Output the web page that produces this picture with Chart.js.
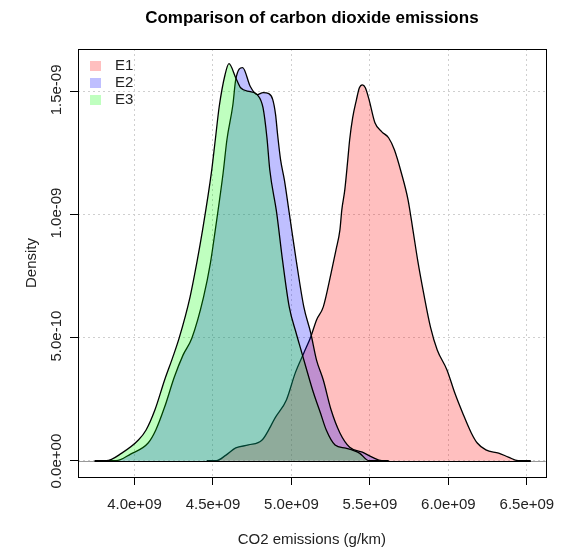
<!DOCTYPE html>
<html>
<head>
<meta charset="utf-8">
<script src="https://cdn.jsdelivr.net/npm/chart.js@4.4.1/dist/chart.umd.min.js"></script>
<style>
  html, body { margin: 0; padding: 0; background: #fff; }
  #wrap { width: 566px; height: 553px; }
</style>
</head>
<body>
<div id="wrap"><canvas id="chart" width="566" height="553"></canvas></div>
<script>
// CO2 emissions (x, in units of 1e9 g/km) and density (y, in units of 1e-9)
const e1Emissions = [4.46, 4.521, 4.583, 4.645, 4.726, 4.813, 4.900, 4.968, 5.024, 5.079, 5.123, 5.160, 5.203, 5.253, 5.284, 5.309, 5.321, 5.340, 5.359, 5.371, 5.390, 5.414, 5.433, 5.452, 5.471, 5.495, 5.532, 5.576, 5.619, 5.656, 5.700, 5.743, 5.774, 5.805, 5.842, 5.886, 5.929, 5.991, 6.041, 6.091, 6.146, 6.184, 6.239, 6.320, 6.382, 6.444, 6.525];
const e1Density = [0, 0, 0.023, 0.052, 0.064, 0.084, 0.178, 0.247, 0.356, 0.438, 0.503, 0.572, 0.625, 0.763, 0.857, 0.938, 1.019, 1.100, 1.222, 1.304, 1.393, 1.466, 1.515, 1.527, 1.515, 1.466, 1.373, 1.336, 1.312, 1.263, 1.170, 1.060, 0.938, 0.812, 0.682, 0.543, 0.450, 0.369, 0.275, 0.194, 0.113, 0.072, 0.044, 0.031, 0.015, 0, 0];

const e2Emissions = [3.80, 3.882, 3.975, 4.087, 4.136, 4.192, 4.254, 4.310, 4.366, 4.440, 4.484, 4.515, 4.565, 4.589, 4.627, 4.645, 4.689, 4.738, 4.782, 4.819, 4.856, 4.881, 4.899, 4.912, 4.931, 4.955, 4.986, 5.030, 5.079, 5.123, 5.160, 5.203, 5.253, 5.309, 5.371, 5.452, 5.514, 5.576, 5.62];
const e2Density = [0, 0, 0.027, 0.072, 0.125, 0.218, 0.340, 0.430, 0.499, 0.665, 0.804, 0.938, 1.170, 1.304, 1.446, 1.548, 1.597, 1.520, 1.487, 1.495, 1.491, 1.467, 1.406, 1.324, 1.222, 1.141, 1.007, 0.816, 0.625, 0.519, 0.409, 0.328, 0.206, 0.113, 0.055, 0.035, 0.015, 0, 0];

const e3Emissions = [3.746, 3.820, 3.919, 4.025, 4.074, 4.130, 4.192, 4.242, 4.285, 4.354, 4.397, 4.434, 4.490, 4.515, 4.540, 4.577, 4.602, 4.645, 4.676, 4.738, 4.782, 4.819, 4.844, 4.862, 4.906, 4.943, 4.986, 5.030, 5.061, 5.092, 5.141, 5.185, 5.222, 5.278, 5.346, 5.433, 5.495, 5.56];
const e3Density = [0, 0, 0.031, 0.084, 0.125, 0.206, 0.328, 0.417, 0.499, 0.665, 0.804, 0.938, 1.170, 1.304, 1.439, 1.568, 1.613, 1.556, 1.515, 1.499, 1.487, 1.434, 1.312, 1.182, 1.007, 0.816, 0.625, 0.519, 0.450, 0.381, 0.275, 0.194, 0.125, 0.064, 0.051, 0.031, 0, 0];

const seriesLabels = ['E1', 'E2', 'E3'];
const seriesFills = ['rgba(255,0,0,0.25)', 'rgba(0,0,255,0.25)', 'rgba(0,255,0,0.25)'];

const xTicks = [4.0e9, 4.5e9, 5.0e9, 5.5e9, 6.0e9, 6.5e9];
const yTicks = [0, 5e-10, 1e-9, 1.5e-9];

// R style scientific labels: 4.0e+09, 5.0e-10
function sci(v) {
  const [m, e] = Number(v).toExponential(1).split('e');
  const sign = e[0] === '-' ? '-' : '+';
  return m + 'e' + sign + e.replace(/[+-]/, '').padStart(2, '0');
}

function toPoints(xs, ys) {
  return xs.map((x, i) => ({ x: x * 1e9, y: ys[i] * 1e-9 }));
}

const seriesData = [
  toPoints(e1Emissions, e1Density),
  toPoints(e2Emissions, e2Density),
  toPoints(e3Emissions, e3Density)
];

// box, zero line and legend like base R graphics
const framePlugin = {
  id: 'frame',
  beforeDatasetsDraw(chart) {
    const { ctx, chartArea: a, scales: { x, y } } = chart;
    const y0 = Math.round(y.getPixelForValue(0)) + 0.5;
    ctx.save();
    ctx.lineWidth = 1;
    ctx.strokeStyle = '#9a9a9a';
    ctx.beginPath();
    ctx.moveTo(a.left, y0);
    ctx.lineTo(a.right, y0);
    ctx.stroke();
    // polygon base edge, from the lowest to the highest emission value
    const lo = Math.min(...seriesData.map(d => d[0].x));
    const hi = Math.max(...seriesData.map(d => d[d.length - 1].x));
    ctx.strokeStyle = '#000';
    ctx.beginPath();
    ctx.moveTo(x.getPixelForValue(lo), y0);
    ctx.lineTo(x.getPixelForValue(hi), y0);
    ctx.stroke();
    ctx.restore();
  },
  afterDatasetsDraw(chart) {
    const { ctx, chartArea: a } = chart;
    ctx.save();
    ctx.strokeStyle = '#000';
    ctx.lineWidth = 1;
    ctx.strokeRect(Math.round(a.left) + 0.5, Math.round(a.top) + 0.5, Math.round(a.right - a.left), Math.round(a.bottom - a.top));

    // legend
    ctx.font = '15px "Liberation Sans", Arial, sans-serif';
    ctx.textBaseline = 'middle';
    chart.data.datasets.forEach((ds, i) => {
      const cy = a.top + 17 + i * 17;
      ctx.fillStyle = ds.backgroundColor;
      ctx.fillRect(a.left + 12, cy - 5, 11, 10);
      ctx.fillStyle = '#222';
      ctx.fillText(ds.label, a.left + 37, cy);
    });
    ctx.restore();
  }
};

Chart.defaults.font.family = '"Liberation Sans", Arial, sans-serif';
Chart.defaults.color = '#222';

new Chart(document.getElementById('chart'), {
  type: 'line',
  data: {
    datasets: seriesLabels.map((label, i) => ({
      label,
      data: seriesData[i],
      backgroundColor: seriesFills[i],
      borderColor: '#000',
      borderWidth: 1.3,
      fill: 'origin',
      pointRadius: 0,
      cubicInterpolationMode: 'monotone',
      order: 3 - i
    }))
  },
  options: {
    responsive: false,
    animation: false,
    layout: { padding: { right: 7 } },
    plugins: {
      legend: { display: false },
      tooltip: { enabled: false },
      title: {
        display: true,
        fullSize: false,
        text: 'Comparison of carbon dioxide emissions',
        color: '#000',
        font: { size: 17, weight: 'bold' },
        padding: { top: 8, bottom: 20.6 }
      }
    },
    scales: {
      x: {
        type: 'linear',
        min: 3.6402e9,
        max: 6.6203e9,
        afterFit(s) { s.height = 76; },
        afterBuildTicks(s) { s.ticks = xTicks.map(v => ({ value: v })); },
        grid: {
          color: '#cfcfcf',
          tickColor: '#000',
          tickLength: 8
        },
        border: { display: false, dash: [2, 3] },
        ticks: {
          autoSkip: false,
          maxRotation: 0,
          padding: 11,
          font: { size: 15 },
          callback: v => sci(v)
        },
        title: {
          display: true,
          text: 'CO2 emissions (g/km)',
          font: { size: 15 },
          padding: { top: 0, bottom: 4 }
        }
      },
      y: {
        type: 'linear',
        min: -0.066e-9,
        max: 1.6725e-9,
        afterFit(s) { s.width = 78; },
        afterBuildTicks(s) { s.ticks = yTicks.map(v => ({ value: v })); },
        grid: {
          color: '#cfcfcf',
          tickColor: '#000',
          tickLength: 8
        },
        border: { display: false, dash: [2, 3] },
        ticks: {
          autoSkip: false,
          minRotation: 90,
          maxRotation: 90,
          labelOffset: -27,
          padding: 13,
          font: { size: 15 },
          callback: v => sci(v)
        },
        title: {
          display: true,
          text: 'Density',
          font: { size: 15 },
          padding: { top: 23, bottom: 0 }
        }
      }
    }
  },
  plugins: [framePlugin]
});
</script>
</body>
</html>
